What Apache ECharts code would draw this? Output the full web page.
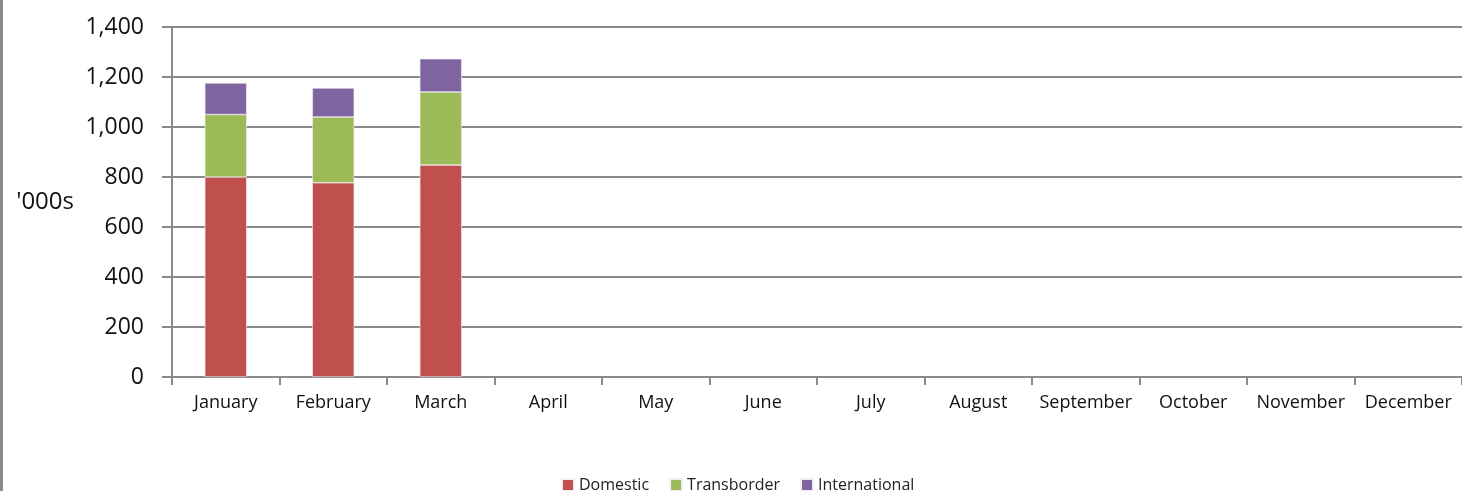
<!DOCTYPE html>
<html>
<head>
<meta charset="utf-8">
<script src="https://cdn.jsdelivr.net/npm/echarts@6/dist/echarts.min.js"></script>
<style>
html,body{margin:0;padding:0;background:#fff;}
#chart{width:1462px;height:491px;box-sizing:border-box;border-left:3px solid #8c8c8c;}
</style>
</head>
<body>
<div id="chart"></div>
<script>
var months = ['January','February','March','April','May','June','July','August','September','October','November','December'];
var domestic = [800, 777, 848];
var transborder = [250, 263, 292];
var international = [126, 116, 133];
var yTicks = {min: 0, max: 1400, interval: 200};

var myChart = echarts.init(document.getElementById('chart'));
var font = '"Open Sans", Lato, sans-serif';
var option = {
    animation: false,
    textStyle: {fontFamily: font},
    grid: {left: 169, right: 0, top: 27, bottom: 114},
    legend: {
        top: 472,
        left: 553,
        itemWidth: 12,
        itemHeight: 12,
        itemGap: 20,
        icon: 'rect',
        textStyle: {fontSize: 16, color: '#222', fontFamily: font},
        data: ['Domestic','Transborder','International']
    },
    xAxis: {
        type: 'category',
        data: months,
        axisLine: {lineStyle: {color: '#8a8a8a', width: 2}},
        axisTick: {show: true, length: 8, lineStyle: {color: '#8a8a8a', width: 2}},
        axisLabel: {fontSize: 18, color: '#111', margin: 17, interval: 0}
    },
    yAxis: {
        type: 'value',
        min: yTicks.min,
        max: yTicks.max,
        interval: yTicks.interval,
        name: "'000s",
        nameLocation: 'middle',
        nameRotate: 0,
        nameGap: 98,
        nameTextStyle: {fontSize: 24, color: '#111', fontFamily: font},
        axisLine: {show: true, lineStyle: {color: '#8a8a8a', width: 2}},
        axisTick: {show: true, length: 10, lineStyle: {color: '#8a8a8a', width: 2}},
        splitLine: {lineStyle: {color: '#8a8a8a', width: 2}},
        axisLabel: {
            fontSize: 23, color: '#111', margin: 28,
            formatter: function(v){ return v.toLocaleString('en-US'); }
        }
    },
    series: [
        {name: 'Domestic', type: 'bar', stack: 'total', data: domestic, barWidth: 42,
         itemStyle: {color: '#C0504D', borderColor: '#f4eef4', borderWidth: 0.6}},
        {name: 'Transborder', type: 'bar', stack: 'total', data: transborder, barWidth: 42,
         itemStyle: {color: '#9BBB59', borderColor: '#f4eef4', borderWidth: 0.6}},
        {name: 'International', type: 'bar', stack: 'total', data: international, barWidth: 42,
         itemStyle: {color: '#8064A2', borderColor: '#f4eef4', borderWidth: 0.6}}
    ]
};
myChart.setOption(option);
</script>
</body>
</html>
